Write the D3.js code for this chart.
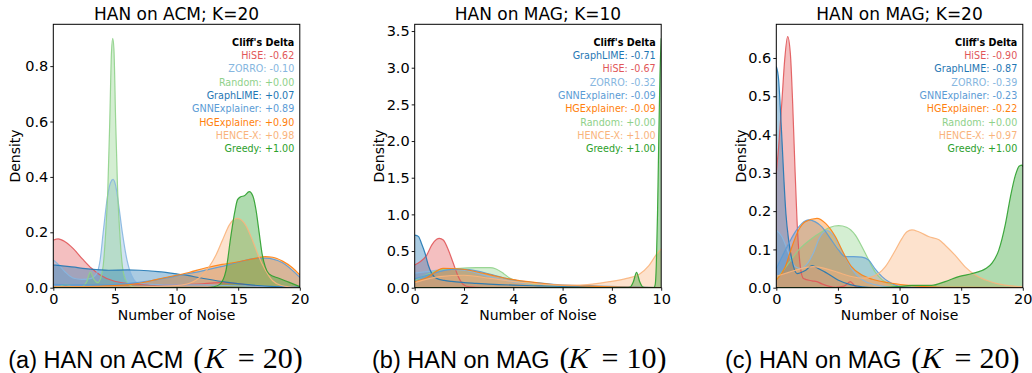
<!DOCTYPE html>
<html><head><meta charset="utf-8">
<script src="https://cdn.jsdelivr.net/npm/d3@7"></script>
<style>body{margin:0;background:#fff}svg{display:block}</style>
</head><body>
<svg id="c" width="1032" height="373"></svg>
<script>
// ---------- data ----------
const methods = ["HiSE","ZORRO","Random","GraphLIME","GNNExplainer","HGExplainer","HENCE-X","Greedy"];
const methodColors = ["#e15759","#86b6e0","#8fd18a","#1f77b4","#5b9bd5","#ff7f0e","#f9b47c","#2ca02c"];

// Panel (a) HAN on ACM, K=20 : density curves [x, density]
const acmHiSE = [[0,0.172],[0.4,0.176],[0.95,0.166],[1.6,0.142],[2.4,0.102],[3.1,0.07],[3.8,0.046],[4.85,0.025],[5.9,0.016],[7.3,0.012],[9.2,0.01],[11.8,0.013],[13.5,0.018],[14.8,0.016],[16.4,0.006],[18.6,0.001],[20,0]];
const acmZORRO = [[0,0.1],[0.5,0.08],[1.0,0.055],[1.6,0.035],[2.3,0.03],[3.0,0.033],[3.5,0.05],[3.8,0.1],[4.05,0.2],[4.4,0.33],[4.65,0.38],[4.85,0.391],[5.05,0.37],[5.3,0.3],[5.6,0.2],[5.98,0.1],[6.4,0.04],[6.9,0.016],[8,0.012],[10,0.01],[12,0.01],[14,0.008],[16,0.006],[18,0.004],[20,0.002]];
const acmRandom = [[0,0],[0.5,0.004],[1.0,0.012],[1.5,0.004],[2.2,0.002],[2.7,0.02],[3.0,0.056],[3.3,0.03],[3.6,0.018],[3.85,0.035],[4.05,0.08],[4.25,0.2],[4.42,0.35],[4.58,0.6],[4.72,0.85],[4.82,0.9],[4.92,0.86],[5.06,0.6],[5.22,0.35],[5.39,0.2],[5.6,0.08],[5.85,0.03],[6.2,0.01],[6.6,0.002],[8,0],[20,0]];
const acmGraphLIME = [[0,0.082],[1.5,0.075],[3,0.067],[4.5,0.063],[6,0.064],[7,0.063],[8.5,0.058],[10,0.05],[10.5,0.047],[12,0.035],[14,0.02],[16,0.01],[18,0.004],[20,0.002]];
const acmGNNExplainer = [[0,0.012],[2,0.01],[4,0.01],[6,0.015],[8,0.026],[9.5,0.038],[10.5,0.047],[12,0.06],[13.5,0.075],[15,0.092],[16.4,0.106],[17.2,0.107],[18.6,0.09],[20,0.037]];
const acmHGExplainer = [[0,0.003],[2,0.004],[4,0.006],[6,0.01],[7,0.016],[8,0.026],[9,0.036],[10,0.045],[11,0.055],[12.4,0.072],[13.7,0.084],[14.8,0.092],[16.4,0.106],[17.2,0.112],[17.8,0.11],[18.6,0.096],[19.4,0.072],[20,0.046]];
const acmHENCEX = [[0,0.002],[5,0.002],[8,0.004],[10,0.008],[10.5,0.01],[11.6,0.028],[12.1,0.046],[12.65,0.076],[13.2,0.118],[13.73,0.172],[14.3,0.228],[14.94,0.25],[15.6,0.226],[16.15,0.172],[16.6,0.12],[17.2,0.064],[17.8,0.025],[18.5,0.008],[19.3,0.002],[20,0]];
const acmGreedy = [[0,0],[12.5,0],[13.0,0.003],[13.5,0.012],[14.0,0.06],[14.4,0.184],[14.7,0.268],[14.95,0.318],[15.2,0.328],[15.5,0.332],[15.9,0.347],[16.2,0.33],[16.45,0.28],[16.7,0.2],[16.95,0.12],[17.2,0.075],[17.5,0.05],[18.3,0.034],[19.1,0.02],[20,0.004]];

// Panel (b) HAN on MAG, K=10
const mag10HiSE = [[0,0.31],[0.22,0.355],[0.49,0.445],[0.69,0.58],[0.89,0.66],[1.0,0.673],[1.16,0.65],[1.37,0.51],[1.57,0.33],[1.77,0.15],[1.97,0.045],[2.24,0.01],[2.8,0],[10,0]];
const mag10ZORRO = [[0,0.2],[0.5,0.22],[1,0.24],[1.5,0.25],[2,0.24],[2.5,0.2],[3,0.15],[4,0.08],[5,0.04],[6,0.02],[7,0.01],[8,0.005],[10,0.001]];
const mag10Random = [[0,0.1],[0.5,0.18],[1.16,0.25],[1.84,0.264],[2.5,0.273],[3.05,0.273],[3.3,0.255],[3.6,0.195],[3.87,0.127],[4.27,0.082],[4.8,0.05],[5.5,0.027],[6.2,0.014],[7.2,0.005],[8,0],[10,0]];
const mag10GraphLIME = [[0,0.718],[0.15,0.70],[0.28,0.6],[0.42,0.47],[0.55,0.31],[0.69,0.195],[0.89,0.127],[1.2,0.1],[1.5,0.085],[2,0.07],[2.5,0.06],[3,0.05],[4,0.035],[5,0.025],[6,0.018],[7,0.012],[8,0.008],[9,0.004],[10,0.002]];
const mag10GNNExplainer = [[0,0.12],[0.5,0.17],[1,0.22],[1.5,0.25],[2,0.25],[2.5,0.23],[3,0.19],[3.7,0.127],[4.3,0.09],[4.95,0.068],[5.9,0.038],[7.4,0.023],[8.6,0.01],[10,0.002]];
const mag10HGExplainer = [[0,0.08],[0.5,0.14],[1.16,0.264],[1.5,0.262],[1.84,0.255],[2.5,0.218],[3.2,0.164],[3.87,0.118],[4.95,0.068],[5.9,0.036],[6.6,0.027],[8,0.012],[10,0.003]];
const mag10HENCEX = [[0,0.07],[1,0.15],[2,0.17],[3,0.13],[4,0.085],[5,0.05],[6,0.035],[6.6,0.036],[7.2,0.05],[7.9,0.082],[8.6,0.127],[9.1,0.18],[9.5,0.3],[9.8,0.45],[10,0.53]];
const mag10Greedy = [[0,0],[8.6,0],[8.75,0.01],[8.87,0.08],[9.0,0.21],[9.13,0.08],[9.25,0.01],[9.4,0],[9.7,0],[9.76,0.05],[9.8,0.3],[9.85,1.0],[9.9,2.0],[9.95,2.9],[10,3.4]];

// Panel (c) HAN on MAG, K=20
const mag20HiSE = [[0,0.3],[0.19,0.368],[0.46,0.49],[0.68,0.595],[0.92,0.656],[1.14,0.612],[1.33,0.48],[1.49,0.334],[1.68,0.177],[1.95,0.055],[2.2,0.024],[2.9,0.018],[3.3,0.016],[3.7,0.01],[4.8,0.001],[5.5,0.004],[6.0,0.016],[6.4,0.004],[6.9,0],[20,0]];
const mag20ZORRO = [[0,0.15],[0.46,0.133],[1,0.09],[1.54,0.055],[2,0.05],[2.5,0.062],[3,0.09],[3.5,0.13],[4.1,0.149],[4.6,0.138],[5.1,0.11],[5.6,0.08],[6.1,0.05],[7,0.02],[8,0.008],[9,0.002],[10,0],[20,0]];
const mag20Random = [[0,0.02],[1.0,0.064],[1.8,0.098],[2.9,0.129],[3.7,0.146],[4.38,0.158],[5.06,0.162],[5.7,0.158],[6.4,0.138],[6.95,0.107],[7.5,0.072],[8.0,0.042],[8.6,0.02],[9.4,0.007],[10.3,0],[20,0]];
const mag20GraphLIME = [[0,0.578],[0.19,0.543],[0.32,0.473],[0.46,0.386],[0.62,0.281],[0.78,0.194],[1.0,0.125],[1.27,0.072],[1.68,0.037],[2.35,0.045],[2.9,0.058],[3.4,0.05],[4,0.04],[5,0.02],[6,0.008],[7,0.002],[8,0],[20,0]];
const mag20GNNExplainer = [[0,0.05],[0.73,0.098],[1.54,0.146],[2.08,0.168],[2.62,0.177],[3.17,0.172],[3.7,0.159],[4.38,0.129],[5.06,0.098],[5.6,0.081],[6.28,0.081],[6.95,0.08],[7.5,0.072],[8.0,0.05],[8.58,0.029],[9.1,0.016],[9.9,0.004],[11,0],[20,0]];
const mag20HGExplainer = [[0,0.02],[0.73,0.055],[1.27,0.107],[1.8,0.15],[2.35,0.172],[3.3,0.181],[4.0,0.168],[4.8,0.133],[5.46,0.09],[6.1,0.055],[6.95,0.033],[7.8,0.022],[9.1,0.013],[10.5,0.007],[12,0.003],[14,0.001],[20,0]];
const mag20HENCEX = [[0,0.03],[1,0.04],[2,0.05],[3,0.055],[4,0.05],[5,0.04],[6,0.03],[7,0.025],[7.8,0.029],[8.85,0.055],[9.66,0.098],[10.2,0.129],[10.6,0.146],[11.0,0.151],[11.55,0.146],[12.4,0.133],[13.2,0.125],[13.7,0.111],[14.5,0.085],[15.3,0.055],[16.15,0.033],[17.0,0.02],[18.0,0.01],[19.7,0.003],[20,0.002]];
const mag20Greedy = [[0,0],[8,0],[9.9,0.003],[11.0,0.006],[12.6,0.006],[13.7,0.016],[14.8,0.029],[15.9,0.037],[17.0,0.05],[17.5,0.064],[18.05,0.098],[18.6,0.168],[19.0,0.238],[19.4,0.294],[19.72,0.318],[19.94,0.32],[20,0.316]];

// Cliff's delta legends (label, value) in displayed order
const acmLegend = [["HiSE","-0.62"],["ZORRO","-0.10"],["Random","+0.00"],["GraphLIME","+0.07"],["GNNExplainer","+0.89"],["HGExplainer","+0.90"],["HENCE-X","+0.98"],["Greedy","+1.00"]];
const mag10Legend = [["GraphLIME","-0.71"],["HiSE","-0.67"],["ZORRO","-0.32"],["GNNExplainer","-0.09"],["HGExplainer","-0.09"],["Random","+0.00"],["HENCE-X","+1.00"],["Greedy","+1.00"]];
const mag20Legend = [["HiSE","-0.90"],["GraphLIME","-0.87"],["ZORRO","-0.39"],["GNNExplainer","-0.23"],["HGExplainer","-0.22"],["Random","+0.00"],["HENCE-X","+0.97"],["Greedy","+1.00"]];

const titles = ["HAN on ACM; K=20","HAN on MAG; K=10","HAN on MAG; K=20"];
const captions = [["(a) HAN on ACM","20"],["(b) HAN on MAG","10"],["(c) HAN on MAG","20"]];
const xDomains = [[0,20],[0,10],[0,20]];
const yDomains = [[0,0.951],[0,3.592],[0,0.688]];
const xTicks = [[0,5,10,15,20],[0,2,4,6,8,10],[0,5,10,15,20]];
const yTicks = [[0,0.2,0.4,0.6,0.8],[0,0.5,1,1.5,2,2.5,3,3.5],[0,0.1,0.2,0.3,0.4,0.5,0.6]];

const panelSeries = [
  [acmHiSE,acmZORRO,acmRandom,acmGraphLIME,acmGNNExplainer,acmHGExplainer,acmHENCEX,acmGreedy],
  [mag10HiSE,mag10ZORRO,mag10Random,mag10GraphLIME,mag10GNNExplainer,mag10HGExplainer,mag10HENCEX,mag10Greedy],
  [mag20HiSE,mag20ZORRO,mag20Random,mag20GraphLIME,mag20GNNExplainer,mag20HGExplainer,mag20HENCEX,mag20Greedy]
];
const panelLegends = [acmLegend, mag10Legend, mag20Legend];

// ---------- layout ----------
const plotLeft = [53.3, 414.7, 776.3];
const plotW = 246.5;
const plotTop = 24.3, plotBottom = 287.7;
const captionStart = [8.3, 372, 725];
const ylabelX = [20, 384, 745.5];
const FONT = "DejaVu Sans, sans-serif";

const svg = d3.select("#c");
const color = d3.scaleOrdinal().domain(methods).range(methodColors);

panelSeries.forEach((series, p) => {
  const x = d3.scaleLinear().domain(xDomains[p]).range([plotLeft[p], plotLeft[p] + plotW]);
  const y = d3.scaleLinear().domain(yDomains[p]).range([plotBottom, plotTop]);
  const g = svg.append("g");
  const clipId = "clip" + p;
  svg.append("clipPath").attr("id", clipId).append("rect")
    .attr("x", plotLeft[p]).attr("y", plotTop).attr("width", plotW).attr("height", plotBottom - plotTop);

  const area = d3.area().x(d => x(d[0])).y0(y(0)).y1(d => y(d[1])).curve(d3.curveMonotoneX);
  const line = d3.line().x(d => x(d[0])).y(d => y(d[1])).curve(d3.curveMonotoneX);
  const pg = g.append("g").attr("clip-path", `url(#${clipId})`);
  series.forEach((s, i) => {
    const c = color(methods[i]);
    pg.append("path").attr("d", area(s)).attr("fill", c).attr("fill-opacity", 0.38).attr("stroke", "none");
  });
  series.forEach((s, i) => {
    const c = color(methods[i]);
    pg.append("path").attr("d", line(s)).attr("fill", "none").attr("stroke", c).attr("stroke-width", 1.2).attr("stroke-opacity", 0.9);
  });

  // axes
  const xAxis = d3.axisBottom(x).tickValues(xTicks[p]).tickFormat(d3.format("d")).tickSize(3).tickPadding(3);
  const yAxis = d3.axisLeft(y).tickValues(yTicks[p]).tickFormat(d3.format(".1f")).tickSize(3).tickPadding(2);
  const gx = g.append("g").attr("transform", `translate(0,${plotBottom})`).call(xAxis);
  const gy = g.append("g").attr("transform", `translate(${plotLeft[p]},0)`).call(yAxis);
  [gx, gy].forEach(a => {
    a.selectAll("text").attr("font-family", FONT).attr("font-size", 14.5).attr("fill", "#000");
    a.select(".domain").remove();
    a.selectAll("line").attr("stroke", "#000").attr("stroke-width", 0.9);
  });
  g.append("rect").attr("x", plotLeft[p]).attr("y", plotTop).attr("width", plotW).attr("height", plotBottom - plotTop)
    .attr("fill", "none").attr("stroke", "#000").attr("stroke-width", 1);

  // title
  g.append("text").attr("x", plotLeft[p] + plotW / 2).attr("y", 20).attr("text-anchor", "middle")
    .attr("font-family", FONT).attr("font-size", 17).text(titles[p]);
  // axis labels
  g.append("text").attr("x", plotLeft[p] + plotW / 2).attr("y", 319.5).attr("text-anchor", "middle")
    .attr("font-family", FONT).attr("font-size", 14).text("Number of Noise");
  g.append("text").attr("transform", `translate(${ylabelX[p]},${(plotTop + plotBottom) / 2}) rotate(-90)`)
    .attr("text-anchor", "middle").attr("font-family", FONT).attr("font-size", 14).text("Density");

  // Cliff's delta legend
  const lx = plotLeft[p] + plotW - 5.5;
  g.append("text").attr("x", lx).attr("y", 45.8).attr("text-anchor", "end").attr("font-family", FONT)
    .attr("font-size", 9.6).attr("font-weight", "bold").text("Cliff's Delta");
  panelLegends[p].forEach((e, k) => {
    g.append("text").attr("x", lx).attr("y", 45.8 + 13.33 * (k + 1)).attr("text-anchor", "end")
      .attr("font-family", FONT).attr("font-size", 9.6).attr("fill", color(e[0]))
      .text(`${e[0]}: ${e[1]}`);
  });

  // caption: sans part + "(" , slanted K, "= nn)"
  const serif = "Liberation Serif, Times New Roman, serif";
  const cx = captionStart[p], cy = 368;
  const cap = g.append("text").attr("x", cx).attr("y", cy);
  cap.append("tspan").attr("font-family", "Liberation Sans, Arial, sans-serif").attr("font-size", 23.5).text(captions[p][0]);
  cap.append("tspan").attr("dx", 10).attr("font-family", serif).attr("font-size", 30).text("(");
  g.append("text").attr("transform", `translate(${cx + 195},${cy}) skewX(-14)`)
    .attr("font-family", serif).attr("font-size", 29).text("K");
  const cap2 = g.append("text").attr("x", cx + 229.5).attr("y", cy).attr("font-family", serif).attr("font-size", 30);
  cap2.append("tspan").text("=");
  cap2.append("tspan").attr("dx", 8).text(captions[p][1] + ")");
});
</script>
</body></html>
